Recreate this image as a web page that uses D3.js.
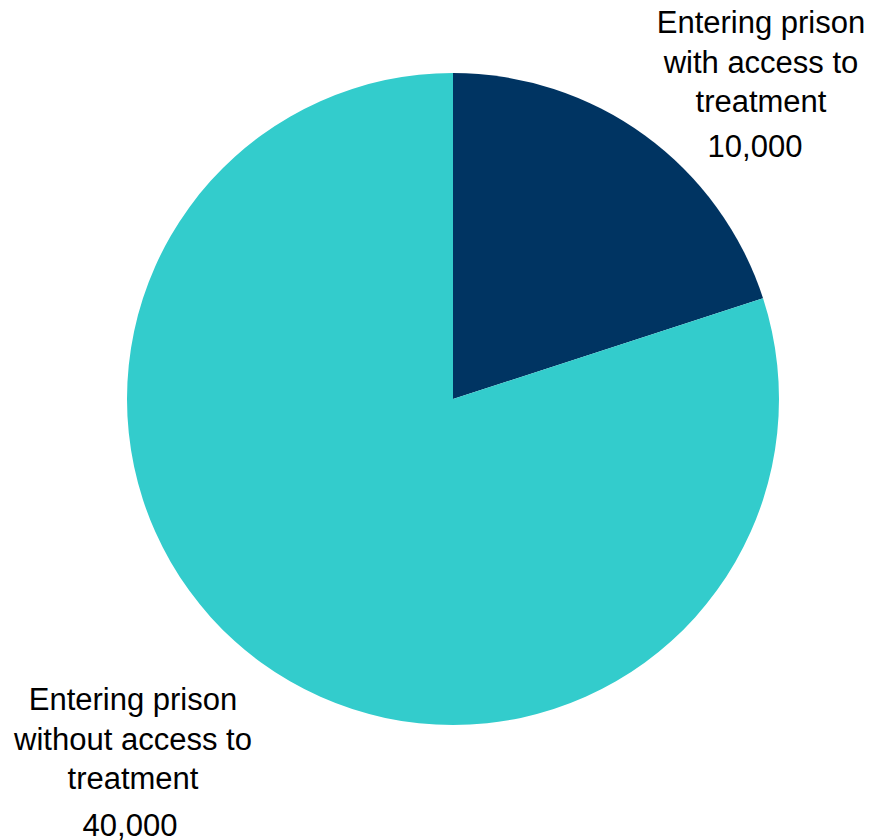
<!DOCTYPE html>
<html><head><meta charset="utf-8">
<script src="https://cdn.jsdelivr.net/npm/d3@7"></script>
<style>body{margin:0;background:#fff}svg{display:block}</style>
</head><body>
<script>
const categories = ["Entering prison with access to treatment", "Entering prison without access to treatment"];
const values = [10000, 40000];
const labelLines = [["Entering prison", "with access to", "treatment"], ["Entering prison", "without access to", "treatment"]];
const colors = ["#003462", "#33CCCC"];

const W = 872, H = 840, cx = 453, cy = 399, R = 326;
const svg = d3.select("body").append("svg").attr("width", W).attr("height", H);
const pie = d3.pie().sort(null).value(d => d)(values);
const arc = d3.arc().innerRadius(0).outerRadius(R);
const g = svg.append("g").attr("transform", `translate(${cx},${cy})`);
g.selectAll("path").data(pie).join("path").attr("d", arc).attr("fill", (d, i) => colors[i]);

const fmt = d3.format(",");
const labelPos = [{x: 761, y: 33, vx: 755, vy: 157}, {x: 133, y: 710, vx: 130, vy: 836}];
const fs = 31;
labelPos.forEach((p, i) => {
  const t = svg.append("text").attr("text-anchor", "middle")
    .attr("font-family", "Liberation Sans, Arial, sans-serif").attr("font-size", fs).attr("fill", "#000");
  labelLines[i].forEach((l, j) => t.append("tspan").attr("x", p.x).attr("y", p.y + j * 39.5).text(l));
  svg.append("text").attr("text-anchor", "middle").attr("x", p.vx).attr("y", p.vy)
    .attr("font-family", "Liberation Sans, Arial, sans-serif").attr("font-size", fs).attr("fill", "#000")
    .text(fmt(values[i]));
});
</script>
</body></html>
